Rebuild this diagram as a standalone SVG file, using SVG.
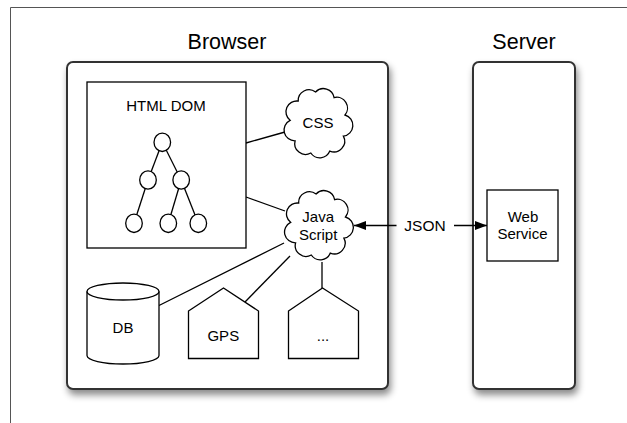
<svg xmlns="http://www.w3.org/2000/svg" width="627" height="423" viewBox="0 0 627 423">
  <style>
    text { font-family: "Liberation Sans", Arial, sans-serif; fill: #000; text-anchor: middle; }
    .title { font-size: 21.5px; }
    .lbl { font-size: 15px; }
    .container { fill: #fff; stroke: #333; stroke-width: 2; filter: url(#shadow); }
    .shape { fill: #fff; stroke: #000; stroke-width: 1.3; }
    .conn { fill: none; stroke: #000; stroke-width: 1.3; }
    .frame { fill: none; stroke: #555; stroke-width: 1; }
  </style>
  <defs>
    <filter id="shadow" x="-20%" y="-20%" width="150%" height="150%">
      <feDropShadow dx="2" dy="5" stdDeviation="3.5" flood-color="#000" flood-opacity="0.45"/>
    </filter>
    <marker id="arrow" markerUnits="userSpaceOnUse" markerWidth="13" markerHeight="10" refX="12" refY="5" orient="auto">
      <path d="M0,0.5 L12,5 L0,9.5 Z" fill="#000"/>
    </marker>
    <path id="cloud" d="M-2.4,-31 A10.8,10.8 0 0 1 16.1,-25.4 A10.8,10.8 0 0 1 27,-8 A10.8,10.8 0 0 1 25.4,13.1 A10.8,10.8 0 0 1 11.8,28.1 A10.8,10.8 0 0 1 -7.2,30 A10.8,10.8 0 0 1 -22.9,17.8 A10.8,10.8 0 0 1 -27.9,-2.7 A10.8,10.8 0 0 1 -19.8,-21.9 A10.8,10.8 0 0 1 -2.4,-31 Z"/>
  </defs>

  <path class="frame" d="M10.5,423 L10.5,7.5 L627,7.5"/>

  <g id="browser">
    <rect class="container" x="67" y="62" width="321" height="327" rx="6"/>
    <text class="title" x="227" y="49">Browser</text>
  </g>
  <g id="server">
    <rect class="container" x="473" y="62" width="102" height="327" rx="6"/>
    <text class="title" x="524" y="49">Server</text>
  </g>

  <g id="connectors">
    <line class="conn" x1="246" y1="143" x2="285" y2="132"/>
    <line class="conn" x1="246" y1="197" x2="285" y2="211"/>
    <line class="conn" x1="159" y1="305.5" x2="284" y2="243"/>
    <line class="conn" x1="245" y1="302" x2="290" y2="256"/>
    <line class="conn" x1="322" y1="262" x2="322" y2="288"/>
    <line class="conn" x1="396.5" y1="225.5" x2="354" y2="225.5" marker-end="url(#arrow)"/>
    <line class="conn" x1="454" y1="225.5" x2="487" y2="225.5" marker-end="url(#arrow)"/>
    <text class="lbl" x="425" y="230.7" style="font-size:15.5px">JSON</text>
  </g>

  <g id="html-dom">
    <rect class="shape" x="87" y="82" width="159" height="166"/>
    <text class="lbl" x="166" y="111">HTML DOM</text>
    <g id="dom-tree">
      <line class="conn" x1="162.3" y1="142.3" x2="148" y2="180"/>
      <line class="conn" x1="162.3" y1="142.3" x2="181.2" y2="180"/>
      <line class="conn" x1="148" y1="180" x2="134" y2="223.3"/>
      <line class="conn" x1="181.2" y1="180" x2="168.3" y2="223.3"/>
      <line class="conn" x1="181.2" y1="180" x2="198.3" y2="223.3"/>
      <ellipse class="shape" cx="162.3" cy="142.3" rx="8.3" ry="9.2"/>
      <ellipse class="shape" cx="148" cy="180" rx="8.3" ry="9.2"/>
      <ellipse class="shape" cx="181.2" cy="180" rx="8.3" ry="9.2"/>
      <ellipse class="shape" cx="134" cy="223.3" rx="8.3" ry="9.2"/>
      <ellipse class="shape" cx="168.3" cy="223.3" rx="8.3" ry="9.2"/>
      <ellipse class="shape" cx="198.3" cy="223.3" rx="8.3" ry="9.2"/>
    </g>
  </g>

  <g id="css">
    <use href="#cloud" class="shape" transform="translate(318,123)"/>
    <text class="lbl" x="318" y="128.3">CSS</text>
  </g>

  <g id="javascript">
    <use href="#cloud" class="shape" transform="translate(318.5,225)"/>
    <text class="lbl" x="318.2" y="222.3">Java</text>
    <text class="lbl" x="318.2" y="240">Script</text>
  </g>

  <g id="db">
    <path class="shape" d="M87,291.5 A36,8.5 0 0 1 159,291.5 L159,355.5 A36,8.5 0 0 1 87,355.5 Z"/>
    <path class="conn" d="M87,291.5 A36,8.5 0 0 0 159,291.5"/>
    <text class="lbl" x="123" y="332.7">DB</text>
  </g>

  <g id="gps">
    <polygon class="shape" points="188.5,311 223.5,288 258.5,311 258.5,358.5 188.5,358.5"/>
    <text class="lbl" x="223.3" y="340.7">GPS</text>
  </g>

  <g id="other">
    <polygon class="shape" points="288.5,311 322.5,288 358.5,311 358.5,358.5 288.5,358.5"/>
    <text class="lbl" x="323" y="340.7">...</text>
  </g>

  <g id="web-service">
    <rect class="shape" x="487" y="190" width="71" height="71"/>
    <text class="lbl" x="523" y="221.7">Web</text>
    <text class="lbl" x="522.5" y="239.3">Service</text>
  </g>
</svg>
